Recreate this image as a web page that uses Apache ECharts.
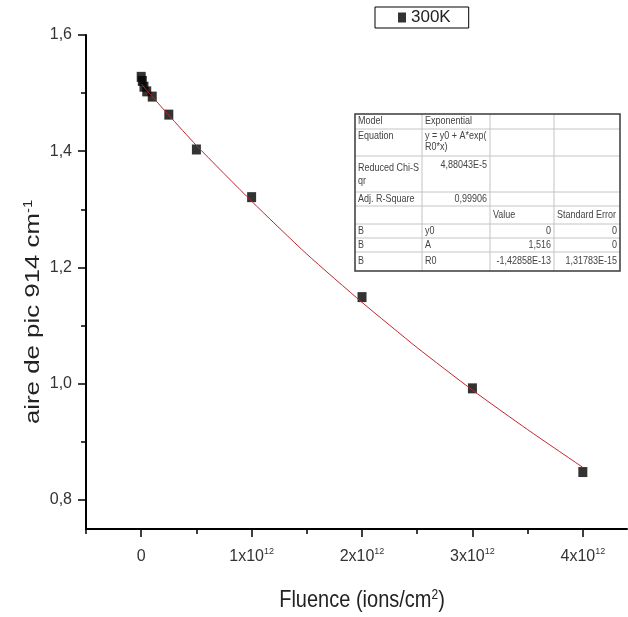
<!DOCTYPE html>
<html>
<head>
<meta charset="utf-8">
<script src="https://cdn.jsdelivr.net/npm/echarts@6/dist/echarts.min.js"></script>
<style>html,body{margin:0;padding:0;background:#fff}#c{width:628px;height:617px}</style>
</head>
<body>
<div id="c"></div>
<script>
// ---- data ----
const fluence = [0, 1e10, 2.5e10, 5e10, 1e11, 2.5e11, 5e11, 1e12, 2e12, 3e12, 4e12];
const area    = [1.528, 1.521, 1.511, 1.503, 1.494, 1.463, 1.403, 1.321, 1.149, 0.992, 0.848];
const fitX = [0, 1e11, 2.5e11, 5e11, 1e12, 1.5e12, 2e12, 2.5e12, 3e12, 3.5e12, 4e12];
const fitY = [1.516, 1.494, 1.462, 1.410, 1.314, 1.223, 1.140, 1.062, 0.989, 0.921, 0.856];
const xTicks = [0, 1e12, 2e12, 3e12, 4e12];
const xMinorTicks = [-0.5e12, 0.5e12, 1.5e12, 2.5e12, 3.5e12];
const yTicks = [0.8, 1.0, 1.2, 1.4, 1.6];
const yMinorTicks = [0.9, 1.1, 1.3, 1.5];
const seriesName = '300K';
const tableRows = [
  ['Model', 'Exponential', '', ''],
  ['Equation', 'y = y0 + A*exp(\nR0*x)', '', ''],
  ['Reduced Chi-S\nqr', '4,88043E-5', '', ''],
  ['Adj. R-Square', '0,99906', '', ''],
  ['', '', 'Value', 'Standard Error'],
  ['B', 'y0', '0', '0'],
  ['B', 'A', '1,516', '0'],
  ['B', 'R0', '-1,42858E-13', '1,31783E-15']
];

// ---- layout ----
const FF = '"Liberation Sans", Arial, sans-serif';
const colX = [355, 422, 490, 554, 620];
const rowY = [114, 129, 156, 192, 206, 224, 238, 252, 271];

const chart = echarts.init(document.getElementById('c'), null, {renderer: 'canvas'});

const tableChildren = [];
tableChildren.push({type: 'rect', shape: {x: colX[0], y: rowY[0], width: colX[4]-colX[0], height: rowY[8]-rowY[0]}, style: {fill: '#fff', stroke: null}});
for (let i = 1; i < rowY.length - 1; i++) {
  tableChildren.push({type: 'line', shape: {x1: colX[0], y1: rowY[i], x2: colX[4], y2: rowY[i]}, style: {stroke: '#c4c4c4', lineWidth: 1}});
}
for (let j = 1; j < colX.length - 1; j++) {
  tableChildren.push({type: 'line', shape: {x1: colX[j], y1: rowY[0], x2: colX[j], y2: rowY[8]}, style: {stroke: '#c4c4c4', lineWidth: 1}});
}
tableChildren.push({type: 'rect', shape: {x: colX[0], y: rowY[0], width: colX[4]-colX[0], height: rowY[8]-rowY[0]}, style: {fill: null, stroke: '#3a3a3a', lineWidth: 1.5}});
const numRe = /^-?[\d,]+(E-?\d+)?$/;
tableRows.forEach((row, i) => {
  const top = rowY[i], bot = rowY[i+1];
  const tall = (bot - top) > 20;
  row.forEach((cell, j) => {
    if (!cell) return;
    const right = numRe.test(cell);
    const multi = cell.indexOf('\n') >= 0;
    tableChildren.push({
      type: 'text',
      x: right ? colX[j+1] - 3 : colX[j] + 3,
      y: tall ? top + (multi && i === 2 ? 5 : 2) : (top + bot) / 2,
      scaleY: 1.12,
      style: {
        text: cell, fontSize: 9, fontFamily: FF, fill: '#444', lineHeight: (i === 2 ? 12 : 9.5),
        align: right ? 'right' : 'left', textAlign: right ? 'right' : 'left',
        verticalAlign: tall ? 'top' : 'middle', textVerticalAlign: tall ? 'top' : 'middle'
      }
    });
  });
});

const labelRich = {
  a: {fontSize: 16, fontFamily: FF, color: '#333', lineHeight: 19},
  s: {fontSize: 9, fontFamily: FF, color: '#333', lineHeight: 9, padding: [0, 0, 10, 0]}
};

const option = {
  animation: false,
  backgroundColor: '#fff',
  grid: {left: 86, top: 35, width: 541, height: 494, containLabel: false},
  legend: {
    data: [seriesName], left: 375, top: 7, orient: 'horizontal',
    borderColor: '#000', borderWidth: 1, padding: [2, 18, 2, 23],
    itemWidth: 8, itemHeight: 10, itemGap: 0, icon: 'rect',
    textStyle: {fontSize: 17, color: '#222', fontFamily: FF}
  },
  xAxis: [
    {
      type: 'value', min: -0.5e12, max: 4.4e12, position: 'bottom',
      axisLine: {show: true, onZero: false, lineStyle: {color: '#000', width: 2}},
      axisTick: {show: true, inside: false, length: 8, lineStyle: {color: '#000', width: 1.5}, customValues: xTicks},
      axisLabel: {
        show: true, margin: 18, customValues: xTicks, rich: labelRich,
        formatter: v => v === 0 ? '{a|0}' : '{a|' + Math.round(v / 1e12) + 'x10}{s|12}'
      },
      splitLine: {show: false}
    },
    {
      type: 'value', min: -0.5e12, max: 4.4e12, position: 'bottom', gridIndex: 0,
      axisLine: {show: false, onZero: false},
      axisTick: {show: true, inside: false, length: 5, lineStyle: {color: '#000', width: 1.5}, customValues: xMinorTicks},
      axisLabel: {show: false},
      splitLine: {show: false}
    }
  ],
  yAxis: [
    {
      type: 'value', min: 0.75, max: 1.6, position: 'left',
      axisLine: {show: true, onZero: false, lineStyle: {color: '#000', width: 2}},
      axisTick: {show: true, inside: false, length: 8, lineStyle: {color: '#000', width: 1.5}, customValues: yTicks},
      axisLabel: {
        show: true, margin: 14, customValues: yTicks, fontSize: 16, fontFamily: FF, color: '#333',
        formatter: v => v.toFixed(1).replace('.', ',')
      },
      splitLine: {show: false}
    },
    {
      type: 'value', min: 0.75, max: 1.6, position: 'left',
      axisLine: {show: false, onZero: false},
      axisTick: {show: true, inside: false, length: 5, lineStyle: {color: '#000', width: 1.5}, customValues: yMinorTicks},
      axisLabel: {show: false},
      splitLine: {show: false}
    }
  ],
  series: [
    {
      name: seriesName, type: 'scatter', xAxisIndex: 0, yAxisIndex: 0,
      symbol: 'rect', symbolSize: [9, 10],
      itemStyle: {color: '#000'}, z: 2,
      data: fluence.map((x, i) => [x, area[i]])
    },
    {
      name: 'fit', type: 'line', xAxisIndex: 0, yAxisIndex: 0,
      showSymbol: false, symbol: 'none', smooth: 0.2,
      lineStyle: {color: '#c0262c', width: 1}, z: 3,
      data: fitX.map((x, i) => [x, fitY[i]])
    }
  ],
  graphic: [
    {
      type: 'text', x: 33, y: 312, rotation: Math.PI / 2, scaleX: 1.23, z: 10,
      style: {
        text: '{a|aire de pic 914 cm}{s|-1}',
        align: 'center', verticalAlign: 'middle', textAlign: 'center', textVerticalAlign: 'middle',
        rich: {
          a: {fontSize: 21, fontFamily: FF, fill: '#222', color: '#222'},
          s: {fontSize: 12, fontFamily: FF, fill: '#222', color: '#222', verticalAlign: 'top'}
        }
      }
    },
    {
      type: 'text', x: 362, y: 600, scaleY: 1.19, z: 10,
      style: {
        text: '{a|Fluence (ions/cm}{s|2}{a|)}',
        align: 'center', verticalAlign: 'middle', textAlign: 'center', textVerticalAlign: 'middle',
        rich: {
          a: {fontSize: 20, fontFamily: FF, fill: '#222', color: '#222'},
          s: {fontSize: 12, fontFamily: FF, fill: '#222', color: '#222', verticalAlign: 'top'}
        }
      }
    },
    {type: 'group', z: 20, children: tableChildren}
  ]
};
chart.setOption(option);
</script>
</body>
</html>
